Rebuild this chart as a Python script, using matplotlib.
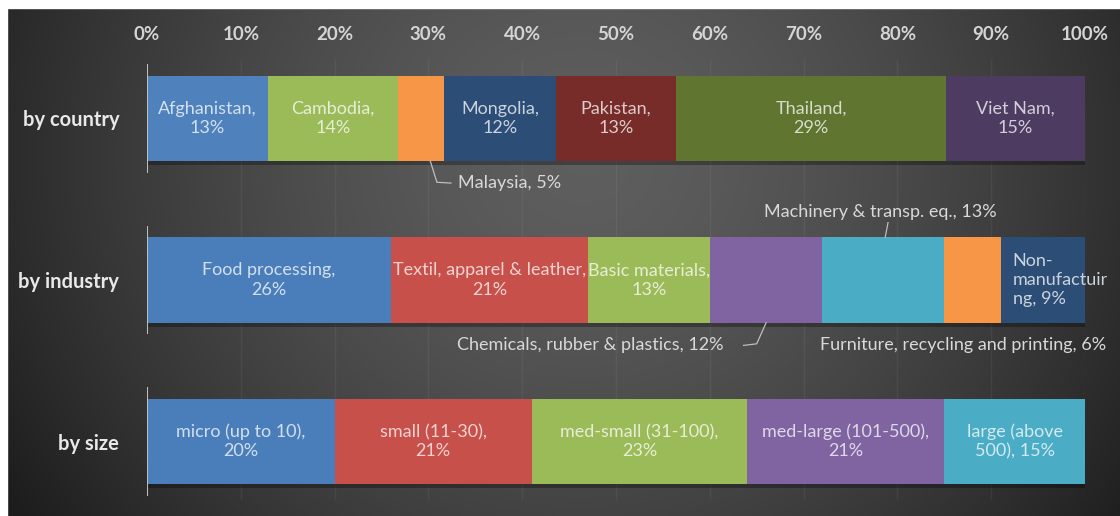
import numpy as np
import matplotlib
matplotlib.use("Agg")
import matplotlib.pyplot as plt
import matplotlib.patheffects as pe
from matplotlib.colors import to_rgb
from matplotlib.patches import Rectangle

plt.rcParams["font.family"] = ["Lato", "DejaVu Sans"]

groups = ["by country", "by industry", "by size"]

country_names = ["Afghanistan", "Cambodia", "Malaysia", "Mongolia", "Pakistan", "Thailand", "Viet Nam"]
country_values = [13, 14, 5, 12, 13, 29, 15]
country_colors = ["#4F81BD", "#9BBB59", "#F79646", "#2C4D75", "#772C2A", "#5F7530", "#4D3B62"]

industry_names = ["Food processing", "Textil, apparel & leather", "Basic materials",
                  "Chemicals, rubber & plastics", "Machinery & transp. eq.",
                  "Furniture, recycling and printing", "Non-\nmanufactuir\nng"]
industry_values = [26, 21, 13, 12, 13, 6, 9]
industry_colors = ["#4A7EBB", "#C8504B", "#9BBB59", "#8064A2", "#4BACC6", "#F79646", "#2C4D75"]

size_names = ["micro (up to 10)", "small (11-30)", "med-small (31-100)", "med-large (101-500)", "large (above\n500)"]
size_values = [20, 21, 23, 21, 15]
size_colors = ["#4A7EBB", "#C8504B", "#9BBB59", "#8064A2", "#4BACC6"]

# labels drawn outside the bar: name -> (side, x offset of text, y offset of text, ha)
outside = {
    "Malaysia": ("below", 4.0, 0.40, "left"),
    "Chemicals, rubber & plastics": ("below", -4.5, 0.40, "right"),
    "Machinery & transp. eq.": ("above", -0.3, -0.42, "center"),
    "Furniture, recycling and printing": ("below", -1.0, 0.40, "center"),
}

fig = plt.figure(figsize=(11.2, 5.16), dpi=100)

# dark radial background
bg = fig.add_axes([0, 0, 1, 1])
gx, gy = np.meshgrid(np.linspace(0, 1, 400), np.linspace(0, 1, 200))
d = np.sqrt(((gx - 0.52) / 0.58) ** 2 + ((gy - 0.3) / 1.2) ** 2)
shade = np.clip(0.37 - 0.24 * d ** 1.5, 0.11, 0.4)
bg.imshow(np.dstack([shade] * 3), aspect="auto", extent=[0, 1, 0, 1], origin="upper")
bg.set_xlim(0, 1)
bg.set_ylim(0, 1)
bg.axis("off")
# white frame edges of the screenshot
bg.add_patch(Rectangle((0, 1 - 8 / 516), 1, 8 / 516, color="white", zorder=3))
bg.add_patch(Rectangle((0, 0), 7 / 1120, 1, color="white", zorder=3))

ax = fig.add_axes([147 / 1120, 1 - 500 / 516, 938 / 1120, 440 / 516])
ax.set_facecolor("none")
ax.set_xlim(0, 100)
ax.set_ylim(2.362, -0.362)

bar_h = 0.53
shadow = [pe.SimplePatchShadow(offset=(1, -3), alpha=0.3, shadow_rgbFace="black"), pe.Normal()]

for x in range(10, 101, 10):
    ax.axvline(x, color="white", alpha=0.05, lw=1, zorder=0)

all_series = [(country_names, country_values, country_colors),
              (industry_names, industry_values, industry_colors),
              (size_names, size_values, size_colors)]

lbl = dict(fontsize=13, va="center", linespacing=1.25, zorder=4)

for yi, (names, values, colors) in enumerate(all_series):
    vals = np.array(values, dtype=float)
    widths = vals / vals.sum() * 100
    lefts = np.concatenate([[0], np.cumsum(widths)[:-1]])
    bars = ax.barh(yi, widths, left=lefts, height=bar_h, color=colors, zorder=2)
    for b in bars:
        b.set_path_effects(shadow)
    ax.vlines(0, yi - bar_h / 2 - 0.07, yi + bar_h / 2 + 0.07, color="#bdbdbd", lw=1.5, zorder=3)
    for name, v, w, l, c in zip(names, values, widths, lefts, colors):
        cx = l + w / 2
        if name in outside:
            side, dx, dy, ha = outside[name]
            if side == "below":
                y0 = yi + bar_h / 2
                if ha == "left":
                    ax.plot([cx + 1.0, cx + 1.7, cx + 3.2], [y0, y0 + 0.13, y0 + 0.135],
                            color="#bfbfbf", lw=0.9, zorder=3)
                elif ha == "right":
                    ax.plot([cx, cx - 1.0, cx - 2.4], [y0, y0 + 0.13, y0 + 0.14],
                            color="#bfbfbf", lw=0.9, zorder=3)
            else:
                y0 = yi - bar_h / 2
                ax.plot([cx + 0.2, cx + 0.5], [y0, y0 - 0.09], color="#bfbfbf", lw=0.9, zorder=3)
            ax.text(cx + dx, yi + dy, f"{name}, {v}%", ha=ha, color="#d9d9d9", **lbl)
            continue
        tc = tuple(np.array(to_rgb(c)) + 0.75 * (1 - np.array(to_rgb(c))))
        if name.startswith("Non-"):
            ax.text(l + 1.3, yi, f"{name}, {v}%", ha="left", color=tc, **lbl)
        elif "\n" in name:
            ax.text(cx, yi, f"{name}, {v}%", ha="center", color=tc, **lbl)
        else:
            ax.text(cx, yi, f"{name},\n{v}%", ha="center", color=tc, **lbl)

ax.xaxis.tick_top()
ax.set_xticks(range(0, 101, 10))
ax.set_xticklabels([f"{t}%" for t in range(0, 101, 10)], fontsize=13.5, fontweight="bold", color="#d4d4d4")
ax.set_yticks(range(len(groups)))
ax.set_yticklabels(groups, fontsize=14.5, fontweight="bold", color="#e8e8e8")
ax.tick_params(axis="x", length=0, pad=12)
ax.tick_params(axis="y", length=0, pad=20)
for s in ax.spines.values():
    s.set_visible(False)

fig.savefig("out.png", dpi=100)
